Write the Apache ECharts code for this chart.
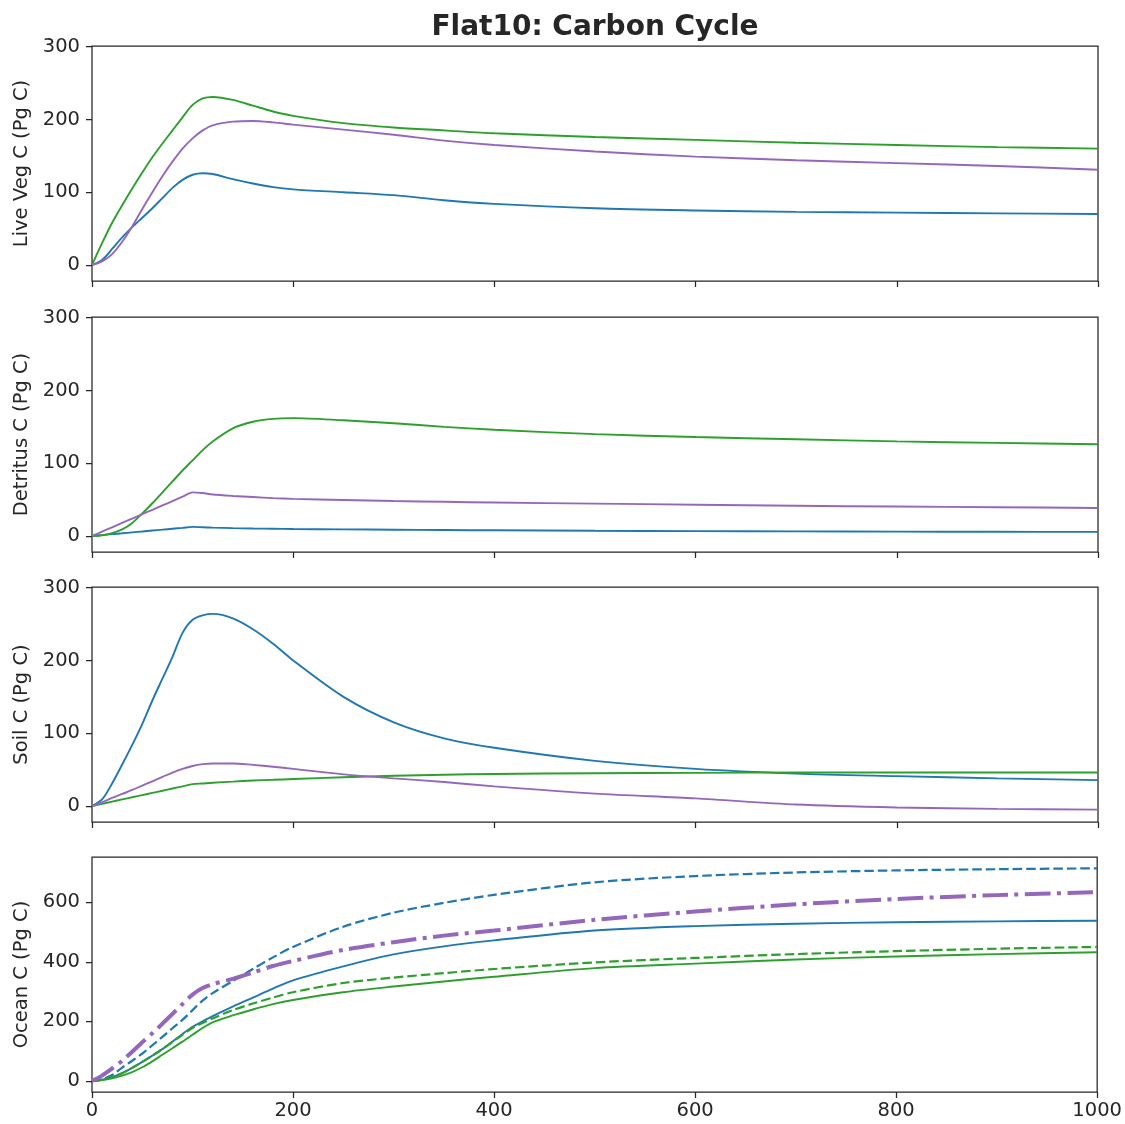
<!DOCTYPE html>
<html>
<head>
<meta charset="utf-8">
<title>Flat10: Carbon Cycle</title>
<script src="https://cdn.jsdelivr.net/npm/echarts@6.0.0/dist/echarts.min.js"></script>
<style>
  html, body { margin: 0; padding: 0; background: #ffffff; }
  #chart { width: 1125px; height: 1124px; }
</style>
</head>
<body>
<div id="chart"></div>
<script>
// Simulation years shared by every series
const years = [0, 10, 20, 30, 40, 50, 60, 70, 80, 90, 100, 110, 120, 140, 160, 180, 200, 250, 300, 350, 400, 500, 600, 700, 800, 900, 1000];

// Live vegetation carbon (Pg C)
const vegBlue   = [0, 7, 22, 38, 52, 65, 78, 92, 106, 117, 124, 126, 125, 118, 112, 107, 104, 100, 96, 89, 84, 78, 75, 73, 72, 71, 70];
const vegGreen  = [0, 30, 58, 82, 105, 127, 148, 167, 185, 203, 220, 229, 231, 227, 219, 211, 205, 195, 189, 185, 181, 176, 172, 168, 165, 162, 160];
const vegPurple = [0, 5, 15, 32, 53, 77, 100, 122, 142, 160, 174, 185, 192, 197, 198, 196, 193, 186, 179, 171, 165, 156, 149, 144, 140, 136, 131];

// Detritus carbon (Pg C)
const detBlue   = [0, 1.2, 2.5, 3.7, 5, 6.2, 7.5, 8.7, 10, 11.2, 12.5, 12, 11.5, 10.8, 10.3, 10, 9.6, 9.1, 8.6, 8.2, 7.8, 7.2, 6.7, 6.3, 6, 5.8, 5.6];
const detGreen  = [0, 1, 4, 9, 18, 31, 45, 60, 75, 90, 104, 118, 130, 148, 157, 161, 162, 159, 155, 150, 146, 140, 136, 133, 130, 128, 126];
const detPurple = [0, 6, 12, 18, 24, 30, 36, 42, 48, 54, 60, 59, 57, 55, 53.5, 52, 51, 49.5, 48, 47, 46, 44.5, 43, 41.5, 40.5, 39.5, 38.5];

// Soil carbon (Pg C)
const soilBlue   = [0, 9, 31, 57, 84, 113, 145, 175, 205, 238, 256, 262, 264, 258, 243, 223, 200, 150, 115, 93, 80, 62, 51, 44.5, 41, 38, 35.5];
const soilGreen  = [0, 3, 6, 9, 12, 15, 18, 21, 24, 27, 30, 31, 32, 33.5, 35, 36, 37, 39.5, 41.5, 43, 44, 45, 45.5, 46, 46, 46, 46];
const soilPurple = [0, 5, 11, 16.5, 22, 28, 34, 40, 46, 51, 55, 57.5, 58.5, 58.5, 56.5, 54, 51, 43.5, 38, 33, 27, 17, 10.5, 2, -2, -4, -5];

// Ocean carbon (Pg C)
const oceanBlue        = [0, 4, 13, 26, 44, 64, 85, 107, 132, 158, 182, 200, 218, 250, 280, 310, 338, 385, 425, 452, 472, 505, 520, 528, 533, 536, 538];
const oceanBlueDash    = [0, 6, 20, 45, 68, 92, 120, 148, 177, 205, 238, 270, 295, 335, 376, 415, 450, 518, 565, 598, 625, 667, 688, 700, 707, 711, 714];
const oceanGreen       = [0, 3, 9, 18, 30, 46, 66, 88, 110, 132, 155, 178, 197, 220, 240, 258, 272, 298, 317, 334, 350, 379, 394, 408, 418, 426, 432];
const oceanGreenDash   = [0, 4, 13, 26, 44, 64, 85, 107, 131, 155, 178, 195, 210, 238, 260, 280, 298, 329, 347, 362, 376, 398, 413, 426, 436, 444, 450];
const oceanPurpleDash  = [0, 18, 42, 68, 98, 130, 160, 192, 225, 258, 290, 312, 325, 343, 364, 386, 403, 440, 466, 488, 505, 541, 569, 593, 611, 624, 634];

// Axis tick values and labels
const landTicks = [0, 100, 200, 300];
const oceanTicks = [0, 200, 400, 600];
const panelNames = ['Live Veg C (Pg C)', 'Detritus C (Pg C)', 'Soil C (Pg C)', 'Ocean C (Pg C)'];

const BLUE = '#1f77b4', GREEN = '#2ca02c', PURPLE = '#9467bd';
const INK = '#262626';
const FONT = 'DejaVu Sans';
const FS = 19.5;

function pairs(vals) {
  return years.map((y, i) => [y, vals[i]]);
}

const panelTops = [46, 317, 587, 857];
const panelHeight = 235;

const grids = panelTops.map(t => ({
  left: 92, top: t, width: 1006, height: panelHeight,
  show: true, borderColor: INK, borderWidth: 1.25, backgroundColor: 'transparent'
}));

const xAxes = panelTops.map((t, i) => ({
  type: 'value', gridIndex: i, min: 0, max: 1000, interval: 200,
  position: 'bottom',
  axisLine: { show: false, onZero: false },
  axisTick: { show: true, inside: false, length: 6, lineStyle: { color: INK, width: 1.25 } },
  axisLabel: { show: i === 3, color: INK, fontFamily: FONT, fontSize: FS, margin: 9,
               formatter: v => String(v) },
  splitLine: { show: false }
}));

const yAxes = panelTops.map((t, i) => {
  const ocean = i === 3;
  const ticks = ocean ? oceanTicks : landTicks;
  return {
    type: 'value', gridIndex: i, position: 'left',
    min: ocean ? -37 : -22,
    max: ocean ? 752 : 301,
    name: panelNames[i], nameLocation: 'middle', nameGap: 60, nameRotate: 90,
    nameTextStyle: { color: INK, fontFamily: FONT, fontSize: FS },
    axisLine: { show: false, onZero: false },
    axisTick: { show: true, inside: false, length: 6, customValues: ticks, lineStyle: { color: INK, width: 1.25 } },
    axisLabel: { show: true, customValues: ticks, color: INK, fontFamily: FONT, fontSize: FS, margin: 12 },
    splitLine: { show: false }
  };
});

function line(idx, vals, color, width, type) {
  return {
    type: 'line', xAxisIndex: idx, yAxisIndex: idx,
    data: pairs(vals), showSymbol: false, symbol: 'none',
    smooth: 0.3,
    lineStyle: { color: color, width: width, type: type || 'solid', cap: 'butt' },
    emphasis: { disabled: true }, silent: true, animation: false
  };
}

const dashed = [9.5, 4];
const dashDot = [25.6, 6.4, 4, 6.4];

const series = [
  line(0, vegBlue, BLUE, 1.9),
  line(0, vegGreen, GREEN, 1.9),
  line(0, vegPurple, PURPLE, 1.9),
  line(1, detBlue, BLUE, 1.9),
  line(1, detGreen, GREEN, 1.9),
  line(1, detPurple, PURPLE, 1.9),
  line(2, soilBlue, BLUE, 1.9),
  line(2, soilGreen, GREEN, 1.9),
  line(2, soilPurple, PURPLE, 1.9),
  line(3, oceanBlue, BLUE, 1.9),
  line(3, oceanBlueDash, BLUE, 2.2, dashed),
  line(3, oceanGreen, GREEN, 1.9),
  line(3, oceanGreenDash, GREEN, 2.2, dashed),
  line(3, oceanPurpleDash, PURPLE, 4, dashDot)
];

const chart = echarts.init(document.getElementById('chart'), null, { renderer: 'canvas' });
chart.setOption({
  backgroundColor: '#ffffff',
  animation: false,
  graphic: [{
    type: 'text', x: 595, y: 28,
    style: { text: 'Flat10: Carbon Cycle', fill: INK, font: 'bold 28px "DejaVu Sans"',
             textAlign: 'center', textVerticalAlign: 'middle' }
  }],
  grid: grids,
  xAxis: xAxes,
  yAxis: yAxes,
  series: series
});
</script>
</body>
</html>
